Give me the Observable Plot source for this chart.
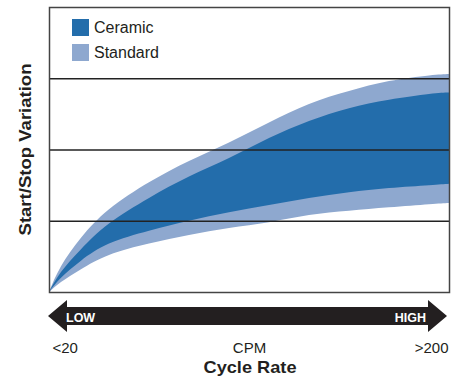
<!DOCTYPE html>
<html>
<head>
<meta charset="utf-8">
<script src="https://cdn.jsdelivr.net/npm/d3@7"></script>
<script src="https://cdn.jsdelivr.net/npm/@observablehq/plot@0.6"></script>
<style>
  html, body { margin: 0; padding: 0; background: #fff; }
  #chart svg { display: block; font-family: "Liberation Sans", Arial, Helvetica, sans-serif; }
</style>
</head>
<body>
<div id="chart"></div>
<script>
// ---- data ----
const xValues        = [0, 3, 8, 15, 25, 35, 45, 55, 65, 75, 85, 95, 100];
const standardUpper  = [0, 9, 19, 29, 38.5, 46, 52.5, 59.5, 66, 70.5, 74, 76, 76.5];
const ceramicUpper   = [0, 7, 15, 24, 33, 40.5, 47, 54, 60, 64.5, 67.5, 69.5, 70];
const ceramicLower   = [0, 5, 11, 17, 21.5, 25, 28, 30.5, 33, 35, 36.5, 37.5, 38];
const standardLower  = [0, 3.5, 8, 13, 17, 20, 22.5, 24.5, 27, 28.5, 29.7, 30.8, 31.2];
const seriesNames    = ["Ceramic", "Standard"];
const seriesColors   = ["#236dab", "#8ea8cf"];
const gridValues     = [25, 50, 75];
const tickPositions  = [0, 50, 100];
const tickLabels     = ["<20", "CPM", ">200"];
const rangeLabels    = ["LOW", "HIGH"];
const xTitle = "Cycle Rate";
const yTitle = "Start/Stop Variation";

const rows = xValues.map((x, i) => ({
  x, su: standardUpper[i], sl: standardLower[i], cu: ceramicUpper[i], cl: ceramicLower[i]
}));
const ticks = tickPositions.map((p, i) => ({p, label: tickLabels[i]}));

const W = 461, H = 377;
const mL = 49, mR = 12, mT = 7, mB = 85;

const chart = Plot.plot({
  width: W, height: H,
  marginLeft: mL, marginRight: mR, marginTop: mT, marginBottom: mB,
  x: {domain: [0, 100], axis: null},
  y: {domain: [0, 100], axis: null},
  style: {fontFamily: "'Liberation Sans', Arial, Helvetica, sans-serif", background: "#fff"},
  marks: [
    Plot.areaY(rows, {x: "x", y1: "sl", y2: "su", fill: seriesColors[1], curve: "natural"}),
    Plot.areaY(rows, {x: "x", y1: "cl", y2: "cu", fill: seriesColors[0], curve: "natural"}),
    Plot.ruleY(gridValues, {stroke: "#222", strokeWidth: 1.5}),
    Plot.frame({stroke: "#444", strokeWidth: 1.5}),
    Plot.text(ticks.slice(0, 1), {x: "p", text: "label", frameAnchor: "bottom", lineAnchor: "bottom", dy: 60, dx: 3, textAnchor: "start", fontSize: 15, fill: "#231f20"}),
    Plot.text(ticks.slice(1, 2), {x: "p", text: "label", frameAnchor: "bottom", lineAnchor: "bottom", dy: 60, textAnchor: "middle", fontSize: 15, fill: "#231f20"}),
    Plot.text(ticks.slice(2, 3), {x: "p", text: "label", frameAnchor: "bottom", lineAnchor: "bottom", dy: 60, dx: -1, textAnchor: "end", fontSize: 15, fill: "#231f20"})
  ]
});
document.getElementById("chart").appendChild(chart);

// ---- decorations positioned from the library's scales ----
const sx = chart.scale("x"), sy = chart.scale("y");
const x0 = sx.apply(0), x1 = sx.apply(100), xm = sx.apply(50);
const yb = sy.apply(0), yt = sy.apply(100);
const svg = d3.select(chart);

// double-headed arrow below the plot
const aMid = yb + 24, headH = 16, barH = 9;
const arrow = [
  [x0 - 1, aMid], [x0 + 18, aMid - headH], [x0 + 18, aMid - barH],
  [x1 - 21, aMid - barH], [x1 - 21, aMid - headH], [x1 - 2, aMid],
  [x1 - 21, aMid + headH], [x1 - 21, aMid + barH], [x0 + 18, aMid + barH],
  [x0 + 18, aMid + headH]
];
svg.append("polygon").attr("points", arrow.map(p => p.join(",")).join(" ")).attr("fill", "#231f20");
svg.append("text").attr("x", x0 + 17).attr("y", aMid + 5.5).attr("font-size", 12.5)
  .attr("font-weight", "bold").attr("fill", "#fff").attr("text-anchor", "start").text(rangeLabels[0]);
svg.append("text").attr("x", x1 - 23).attr("y", aMid + 5.5).attr("font-size", 12.5)
  .attr("font-weight", "bold").attr("fill", "#fff").attr("text-anchor", "end").text(rangeLabels[1]);

// x title
svg.append("text").attr("x", xm + 1).attr("y", 373)
  .attr("text-anchor", "middle").attr("font-size", 17).attr("font-weight", "bold")
  .attr("textLength", 93).attr("lengthAdjust", "spacingAndGlyphs")
  .attr("fill", "#231f20").text(xTitle);

// y title
svg.append("text")
  .attr("transform", `translate(${x0 - 18},${(yb + yt) / 2}) rotate(-90)`)
  .attr("text-anchor", "middle").attr("font-size", 17).attr("font-weight", "bold")
  .attr("textLength", 172).attr("lengthAdjust", "spacingAndGlyphs")
  .attr("fill", "#231f20").text(yTitle);

// legend inside the plot
seriesNames.forEach((name, i) => {
  const ly = yt + 12 + i * 25;
  svg.append("rect").attr("x", x0 + 23).attr("y", ly).attr("width", 17).attr("height", 17)
    .attr("fill", seriesColors[i]);
  svg.append("text").attr("x", x0 + 45).attr("y", ly + 14).attr("font-size", 16)
    .attr("text-anchor", "start").attr("fill", "#231f20").text(name);
});
</script>
</body>
</html>
